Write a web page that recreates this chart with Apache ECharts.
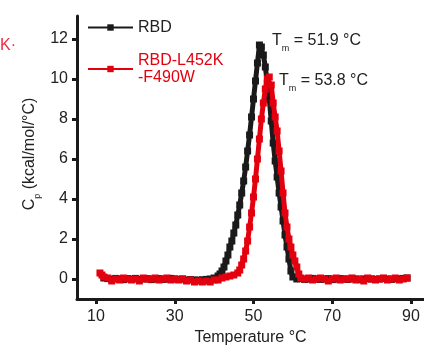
<!DOCTYPE html>
<html><head><meta charset="utf-8">
<script src="https://cdn.jsdelivr.net/npm/echarts@6/dist/echarts.min.js"></script>
<style>html,body{margin:0;padding:0;background:#fff}#c{width:424px;height:346px}</style>
</head><body><div id="c"></div>
<script>
var seriesNames = ["RBD", "RBD-L452K\n-F490W"];
var xTicks = [10, 30, 50, 70, 90];
var yTicks = [0, 2, 4, 6, 8, 10, 12];
var tmLabels = ["51.9", "53.8"];

var rbdTemp = [12,13,14,15,16,17,18,19,20,21,22,23,24,25,26,27,28,29,30,31,32,33,34,35,36,37,38,39,40,
  41,41.5,42,42.5,43,43.5,44,44.5,45,45.5,46,46.5,47,47.5,48,48.5,49,49.5,50,50.5,51,51.5,52,52.5,53,53.5,54,54.5,55,55.5,56,56.5,57,57.5,58,58.5,59,59.5,60,
  61,62,63,64,65,66,67,68,69,70,71,72,73,74,75,76,77,78,79,80,81,82,83,84,85,86,87,88,89];
var rbdCp = [0.05,0.02,-0.02,0.03,0.0,-0.03,0.02,0.0,0.03,-0.02,0.0,0.02,-0.03,0.0,0.02,-0.02,0.0,0.03,0.0,-0.02,0.0,-0.05,-0.03,-0.05,-0.06,-0.04,-0.02,0.0,0.05,
  0.15,0.25,0.4,0.6,0.9,1.2,1.6,1.9,2.3,2.7,3.2,3.7,4.3,4.9,5.6,6.4,7.2,8.1,9.0,9.9,10.8,11.7,11.6,11.2,10.6,9.8,9.0,7.9,6.8,5.9,5.1,4.3,3.6,2.9,2.2,1.6,1.0,0.4,0.1,
  0.0,0.02,-0.02,0.0,0.03,0.0,-0.02,0.0,0.02,-0.03,0.0,0.02,0.0,-0.02,0.03,0.0,-0.03,0.0,0.02,0.0,-0.02,0.0,0.03,0.0,-0.02,0.02,0.0,0.03,0.05];

var mutTemp = [11,11.5,12,13,14,15,16,17,18,19,20,21,22,23,24,25,26,27,28,29,30,31,32,33,34,35,36,37,38,39,40,41,42,43,44,45,46,
  46.5,47,47.5,48,48.5,49,49.5,50,50.5,51,51.5,52,52.5,53,53.5,54,54.5,55,55.5,56,56.5,57,57.5,58,58.5,59,59.5,60,60.5,61,61.5,62,
  63,64,65,66,67,68,69,70,71,72,73,74,75,76,77,78,79,80,81,82,83,84,85,86,87,88,89];
var mutCp = [0.3,0.2,0.1,0.05,-0.1,0.0,-0.05,0.05,0.0,-0.05,0.0,-0.1,0.05,0.0,0.0,0.05,-0.05,0.0,0.05,-0.05,0.0,-0.05,0.0,-0.1,-0.05,-0.15,-0.1,-0.15,-0.1,-0.15,-0.05,-0.05,0.05,0.1,0.15,0.2,0.3,
  0.45,0.7,1.0,1.4,1.9,2.6,3.3,4.1,5.0,6.0,7.0,8.0,8.8,9.5,10.0,10.1,9.7,8.8,8.1,7.4,6.4,5.4,4.3,3.3,2.6,2.0,1.6,1.2,0.9,0.6,0.25,0.05,
  0.0,0.05,-0.05,0.0,0.05,0.0,-0.1,0.0,0.05,-0.05,0.0,0.0,0.05,-0.05,0.0,-0.1,0.05,0.0,-0.05,0.0,0.05,-0.05,0.0,0.05,-0.05,0.0,0.05];

function pairs(t, v){ return t.map(function(x,i){ return [x, v[i]]; }); }

var FONT = '"Liberation Sans", Arial, sans-serif';
var BLACK = '#1a1a1a', RED = '#e3000f';
var rich = {a: {fontSize: 16, fontFamily: FONT, fill: '#222', lineHeight: 18, verticalAlign: 'bottom'},
            s: {fontSize: 9, fontFamily: FONT, fill: '#222', lineHeight: 18, verticalAlign: 'bottom', padding: [0,0,-4,0]}};
var chart = echarts.init(document.getElementById('c'), null, {renderer:'canvas'});
chart.setOption({
  animation: false,
  textStyle: {fontFamily: FONT},
  grid: {left: 77, right: 0, top: 16, bottom: 47, containLabel: false, outerBoundsMode: 'none'},
  xAxis: {
    type: 'value', min: 5.17, max: 93.3,
    axisLine: {show: true, onZero: false, lineStyle: {color: BLACK, width: 3}},
    axisTick: {show: true, customValues: xTicks, length: 5, lineStyle: {color: BLACK, width: 3}},
    axisLabel: {customValues: xTicks, color: '#222', fontSize: 16, margin: 10, fontFamily: FONT},
    splitLine: {show: false},
    name: 'Temperature °C', nameLocation: 'middle', nameGap: 31,
    nameTextStyle: {color: '#222', fontSize: 16, fontFamily: FONT}
  },
  yAxis: {
    type: 'value', min: -1, max: 13.15,
    axisLine: {show: true, onZero: false, lineStyle: {color: BLACK, width: 3}},
    axisTick: {show: true, customValues: yTicks, length: 5, lineStyle: {color: BLACK, width: 3}},
    axisLabel: {customValues: yTicks, color: '#222', fontSize: 16, margin: 9, fontFamily: FONT},
    splitLine: {show: false}
  },
  legend: {
    orient: 'vertical', left: 87, top: 19, padding: 0, itemWidth: 45, itemHeight: 8, itemGap: 16,
    textStyle: {fontSize: 16, fontFamily: FONT, lineHeight: 17},
    data: [
      {name: seriesNames[0], textStyle: {color: '#222'}},
      {name: seriesNames[1], textStyle: {color: RED}}
    ]
  },
  graphic: [
    {type: 'text', left: 0, top: 38, style: {text: 'K·', fill: '#ef2d45', font: '16px ' + FONT}},
    {type: 'text', x: 29, y: 154, rotation: Math.PI/2,
      style: {text: '{a|C}{s|p}{a| (kcal/mol/°C)}', align: 'center', verticalAlign: 'middle', rich: rich}},
    {type: 'text', x: 272, y: 40,
      style: {text: '{a|T}{s|m}{a| = ' + tmLabels[0] + ' °C}', verticalAlign: 'middle', rich: rich}},
    {type: 'text', x: 279, y: 80,
      style: {text: '{a|T}{s|m}{a| = ' + tmLabels[1] + ' °C}', verticalAlign: 'middle', rich: rich}}
  ],
  series: [
    {name: seriesNames[0], type: 'line', data: pairs(rbdTemp, rbdCp), showAllSymbol: true,
      symbol: 'rect', symbolSize: 7, itemStyle: {color: BLACK}, lineStyle: {color: BLACK, width: 5}, z: 2},
    {name: seriesNames[1], type: 'line', data: pairs(mutTemp, mutCp), showAllSymbol: true,
      symbol: 'rect', symbolSize: 7, itemStyle: {color: RED}, lineStyle: {color: RED, width: 5}, z: 3}
  ]
});
</script></body></html>
